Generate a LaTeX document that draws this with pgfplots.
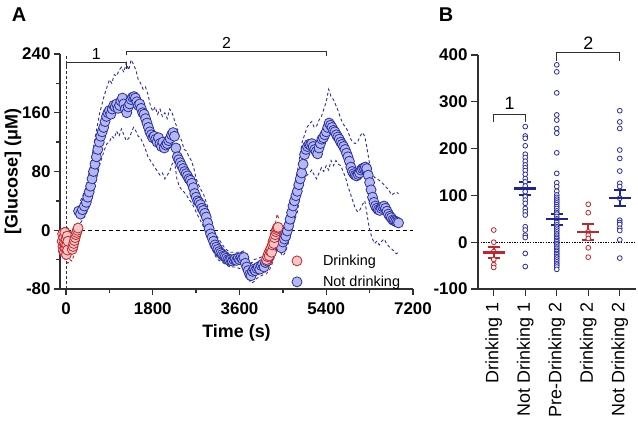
\documentclass[border=0pt]{standalone}
\usepackage{fontspec}
\setmainfont{Liberation Sans}
\usepackage{graphicx}
\usepackage{pgfplots}
\pgfplotsset{compat=1.18}
\definecolor{navy}{HTML}{2B2F9E}
\definecolor{dnavy}{HTML}{1C2590}
\definecolor{lblue}{HTML}{B3B8F0}
\definecolor{dred}{HTML}{C0262B}
\definecolor{lred}{HTML}{F5C8C8}
\definecolor{axgray}{HTML}{303030}
\pgfplotsset{
  myaxis/.style={scale only axis, anchor=south west,
    axis x line*=bottom, axis y line*=left,
    axis line style={-, axgray, line width=1.3bp},
    tick align=outside, major tick length=6bp, minor tick length=4bp,
    every tick/.style={axgray, line width=1.3bp},
    ticklabel style={font=\fontsize{17}{17}\selectfont\bfseries},
    clip=false},
  band/.style={navy, line width=0.9bp, dash pattern=on 3bp off 2.5bp, forget plot},
  rband/.style={dred, line width=0.9bp, dash pattern=on 3bp off 2.5bp, forget plot},
}
\begin{document}
\begin{tikzpicture}
\useasboundingbox (0,0) rectangle (638bp,422bp);
% ---------------- Panel A ----------------
\begin{axis}[myaxis, at={(60bp,133bp)}, width=353bp, height=235bp,
  xmin=-125, xmax=7200, ymin=-80, ymax=240,
  xtick={0,1800,3600,5400,7200}, xticklabels={0,1800,3600,5400,7200},
  minor xtick={900,2700,4500,6300},
  ytick={-80,0,80,160,240}, yticklabels={-80,0,80,160,240},
  minor ytick={-40,40,120,200},
  xticklabel style={yshift=-4bp},
  xlabel={Time (s)}, ylabel={[Glucose] (μM)},
  every axis x label/.style={at={([yshift=-44bp]axis description cs:0.5,0)}, anchor=center, font=\fontsize{18}{18}\selectfont\bfseries},
  every axis y label/.style={at={([xshift=-47bp]axis description cs:0,0.5)}, rotate=90, anchor=center, font=\fontsize{18}{18}\selectfont\bfseries},
  reverse legend,
  legend style={draw=none, fill=none, at={(axis cs:4685,-56)}, anchor=west, inner sep=0pt,
    font=\fontsize{14.5}{16}\selectfont, nodes={inner sep=2bp}, row sep=5bp},
  legend cell align=left]
% zero lines
\addplot[forget plot, black, line width=0.9bp, dash pattern=on 4bp off 3bp] coordinates {(-125,0) (7200,0)};
\addplot[forget plot, black!80, line width=0.9bp, dash pattern=on 3bp off 2bp] coordinates {(0,-80) (0,240)};
% SEM bands (not drinking)
\addplot[band] coordinates {(300,40) (400,55) (500,85) (600,125) (700,160) (800,185) (850,195) (900,205) (950,200) (1000,212) (1050,210) (1100,218) (1150,222) (1200,215) (1250,228) (1300,218) (1350,232) (1400,226) (1450,218) (1500,205) (1550,200) (1600,192) (1650,195) (1700,185) (1750,170) (1800,162) (1850,168) (1900,158) (1950,165) (2000,155) (2050,160) (2100,152) (2150,165) (2200,160) (2250,150) (2300,140) (2350,128) (2400,122) (2450,110) (2500,108) (2550,100) (2600,95) (2650,85) (2700,70) (2750,62) (2800,55) (2850,50) (2900,40) (2950,30) (3000,15) (3050,5) (3100,-5) (3150,-10) (3200,-15) (3250,-20) (3300,-25) (3400,-30) (3500,-30) (3600,-30) (3700,-28) (3750,-35) (3800,-42) (3850,-45) (3900,-40) (4000,-38) (4100,-35) (4150,-30)};
\addplot[band] coordinates {(4450,5) (4500,0) (4550,10) (4600,25) (4650,35) (4700,50) (4750,65) (4800,80) (4850,100) (4900,120) (4950,130) (5000,140) (5050,145) (5100,148) (5150,140) (5200,142) (5250,150) (5300,155) (5350,165) (5400,175) (5450,192) (5500,182) (5550,178) (5600,170) (5650,162) (5700,152) (5750,145) (5800,140) (5850,135) (5900,125) (5950,120) (6000,118) (6050,120) (6100,128) (6150,133) (6200,128) (6250,110) (6300,90) (6350,78) (6400,72) (6450,70) (6500,68) (6550,65) (6600,62) (6650,58) (6700,55) (6750,48) (6800,50) (6850,52) (6900,50)};
\addplot[band] coordinates {(300,10) (400,20) (500,35) (600,60) (700,90) (800,110) (850,118) (900,120) (950,128) (1000,125) (1050,135) (1100,128) (1150,138) (1200,130) (1250,122) (1300,125) (1350,132) (1400,140) (1450,135) (1500,128) (1550,125) (1600,118) (1650,110) (1700,100) (1750,95) (1800,90) (1850,85) (1900,80) (1950,75) (2000,78) (2050,70) (2100,75) (2150,80) (2200,90) (2250,95) (2300,70) (2350,60) (2400,55) (2450,52) (2500,48) (2550,42) (2600,38) (2650,32) (2700,25) (2750,18) (2800,12) (2850,5) (2900,-2) (2950,-10) (3000,-20) (3050,-28) (3100,-35) (3150,-40) (3200,-42) (3300,-46) (3400,-50) (3500,-50) (3600,-52) (3700,-48) (3750,-60) (3800,-68) (3850,-72) (3900,-70) (3950,-66) (4000,-64) (4100,-60) (4150,-55)};
\addplot[band] coordinates {(4450,-30) (4500,-35) (4550,-30) (4600,-20) (4650,-10) (4700,5) (4750,15) (4800,25) (4850,45) (4900,60) (4950,70) (5000,75) (5050,78) (5100,82) (5150,75) (5200,70) (5250,78) (5300,85) (5350,80) (5400,88) (5450,82) (5500,95) (5550,88) (5600,95) (5650,90) (5700,88) (5750,80) (5800,72) (5850,60) (5900,50) (5950,40) (6000,30) (6050,25) (6100,28) (6150,35) (6200,40) (6250,20) (6300,0) (6350,-10) (6400,-18) (6450,-15) (6500,-20) (6550,-15) (6600,-12) (6650,-18) (6700,-22) (6750,-25) (6800,-28) (6850,-32) (6900,-30)};
% SEM bands (drinking)
\addplot[rband] coordinates {(-80,-30) (-40,-38) (0,-42) (40,-45) (80,-40) (120,-42) (160,-35) (200,-28) (250,-15)};
\addplot[rband] coordinates {(-80,2) (0,5) (80,0) (160,-8) (200,2) (250,12)};
\addplot[rband] coordinates {(4150,-60) (4230,-53) (4300,-42) (4380,-20) (4420,-15)};
\addplot[rband] coordinates {(4150,-25) (4230,-20) (4300,-8) (4380,22) (4420,15)};
% Not drinking
\addplot[only marks, mark=*, mark size=5bp, mark options={fill=lblue, draw=navy, line width=0.8bp}] coordinates {
(260,26) (300,22) (340,28) (380,33) (420,38) (450,45) (480,52) (510,60) (540,70) (570,80) (600,90) (630,100) (660,110) (690,120) (720,128) (750,134) (780,140) (810,148) (840,155) (870,160) (900,163) (930,158) (960,165) (990,170) (1020,168) (1050,172) (1080,166) (1110,170) (1140,176) (1170,180) (1200,172) (1230,165) (1260,160) (1290,168) (1320,172) (1350,178) (1380,181) (1410,182) (1440,180) (1470,175) (1500,170) (1530,172) (1560,166) (1590,160) (1620,158) (1650,152) (1680,146) (1710,140) (1740,134) (1770,130) (1800,126) (1830,128) (1860,124) (1890,120) (1920,126) (1950,118) (1980,114) (2010,120) (2040,112) (2070,116) (2100,118) (2130,122) (2160,125) (2190,130) (2220,133) (2250,128) (2280,112) (2310,100) (2340,96) (2370,92) (2400,88) (2430,84) (2460,80) (2490,77) (2520,74) (2550,70) (2580,68) (2610,64) (2640,58) (2670,50) (2700,45) (2730,40) (2760,38) (2790,35) (2820,30) (2850,27) (2880,23) (2910,18) (2940,10) (2970,2) (3000,-5) (3030,-10) (3060,-15) (3090,-20) (3120,-23) (3150,-26) (3180,-29) (3210,-31) (3240,-33) (3270,-35) (3300,-36) (3330,-38) (3360,-40) (3390,-41) (3420,-40) (3450,-42) (3480,-40) (3510,-39) (3540,-41) (3570,-38) (3600,-40) (3630,-37) (3660,-39) (3690,-37) (3720,-45) (3750,-50) (3780,-55) (3810,-60) (3840,-62) (3870,-56) (3900,-53) (3930,-55) (3960,-52) (3990,-50) (4020,-53) (4050,-48) (4080,-46) (4110,-50) (4140,-44) (4170,-42) (4200,-38) (4230,-33) (4260,-28) (4290,-22) (4320,-18) (4350,-14) (4380,-8) (4410,-5) (4440,-10) (4470,-24) (4500,-16) (4530,-12) (4560,-8) (4590,-1) (4620,6) (4650,15) (4680,24) (4710,33) (4740,40) (4770,47) (4800,53) (4830,62) (4860,70) (4890,78) (4920,90) (4950,103) (4980,110) (5010,114) (5040,117) (5070,116) (5100,118) (5130,114) (5160,110) (5190,107) (5220,104) (5250,112) (5280,118) (5310,124) (5340,126) (5370,130) (5400,134) (5430,140) (5460,146) (5490,143) (5520,140) (5550,136) (5580,134) (5610,130) (5640,127) (5670,124) (5700,120) (5730,117) (5760,114) (5790,110) (5820,105) (5850,100) (5880,94) (5910,86) (5940,80) (5970,77) (6000,75) (6030,74) (6060,76) (6090,78) (6120,82) (6150,84) (6180,85) (6210,86) (6240,84) (6270,75) (6300,65) (6330,55) (6360,45) (6390,38) (6420,33) (6450,30) (6480,28) (6510,27) (6540,30) (6570,32) (6600,33) (6630,30) (6660,26) (6690,22) (6720,19) (6750,17) (6780,14) (6810,13) (6840,12) (6870,11) (6900,10)};
\addlegendentry{\hspace{19bp}Not drinking}
% Drinking
\addplot[only marks, mark=*, mark size=5bp, mark options={fill=lred, draw=dred, line width=0.8bp}] coordinates {
(-80,-15) (-72,-5) (-64,-22) (-56,-28) (-48,-10) (-40,-18) (-32,-30) (-24,-3) (-16,-20) (-8,-25) (0,-12) (8,-33) (16,-20) (24,-8) (32,-27) (40,-15)
(130,-26) (145,-22) (160,-18) (175,-14) (190,-10) (205,-6) (220,-3) (235,0) (250,3)};
\addlegendentry{\hspace{19bp}Drinking}
\addplot[forget plot, only marks, mark=*, mark size=5bp, mark options={fill=lred, draw=dred, line width=0.8bp}] coordinates {
(4160,-40) (4180,-36) (4200,-32) (4215,-35) (4230,-28) (4250,-25) (4265,-30) (4280,-20) (4295,-15) (4310,-18) (4325,-10) (4340,-6) (4355,-2) (4370,1) (4385,3) (4400,4)};
% brackets
\draw[axgray, line width=1bp] (axis cs:0,222) -- (axis cs:0,229) -- (axis cs:1260,229) -- (axis cs:1260,220);
\draw[axgray, line width=1bp] (axis cs:1260,238) -- (axis cs:1260,243) -- (axis cs:5400,243) -- (axis cs:5400,237);
\node[font=\fontsize{16}{16}\selectfont, anchor=base] at (axis cs:630,232) {1};
\node[font=\fontsize{16}{16}\selectfont, anchor=base] at (axis cs:3330,248) {2};
\end{axis}
% ---------------- Panel B ----------------
\begin{axis}[myaxis, at={(478bp,133bp)}, width=157.5bp, height=234bp,
  xmin=-0.5, xmax=4.5, ymin=-100, ymax=400,
  xtick={0,1,2,3,4},
  xticklabels={Drinking 1, Not Drinking 1, Pre-Drinking 2, Drinking 2, Not Drinking 2},
  xticklabel style={rotate=90, anchor=east, font=\fontsize{18}{18}\selectfont, xshift=-3bp},
  ytick={-100,0,100,200,300,400}, yticklabels={-100,0,100,200,300,400},
  major tick length=7bp]
\addplot[black, line width=0.9bp, dash pattern=on 1.3bp off 1.3bp] coordinates {(-0.5,0) (4.5,0)};
% red dots
\addplot[only marks, mark=*, mark size=2.4bp, mark options={fill=white, draw=dred, line width=0.8bp}] coordinates {
(0,26) (0,0) (0,-20) (0,-37) (0,-48) (0,-54)
(3,81) (3,63) (3,22) (3,15) (3,8) (3,-12) (3,-32)};
% blue dots
\addplot[only marks, mark=*, mark size=2.4bp, mark options={fill=white, draw=navy, line width=0.8bp}] coordinates {
(1,247) (1,227) (1,222) (1,206) (1,188) (1,181) (1,173) (1,165) (1,159) (1,153) (1,145) (1,136) (1,129) (1,120) (1,108) (1,97) (1,90) (1,83) (1,72) (1,65) (1,58) (1,33) (1,26) (1,15) (1,10) (1,-24) (1,-52)
(2,379) (2,364) (2,319) (2,272) (2,261) (2,243) (2,233) (2,191) (2,147) (2,127) (2,119) (2,109) (2,101) (2,96) (2,92) (2,88) (2,84) (2,80) (2,76) (2,72) (2,67) (2,63) (2,60) (2,55) (2,50) (2,47) (2,42) (2,37) (2,33) (2,30) (2,26) (2,22) (2,18) (2,15) (2,11) (2,8) (2,4) (2,1) (2,-3) (2,-6) (2,-10) (2,-13) (2,-17) (2,-20) (2,-24) (2,-27) (2,-31) (2,-34) (2,-38) (2,-42) (2,-46) (2,-49) (2,-53) (2,-58)
(4,281) (4,257) (4,243) (4,197) (4,179) (4,152) (4,126) (4,119) (4,94) (4,47) (4,42) (4,38) (4,30) (4,25) (4,5) (4,-34)};
% means and SEM
\addplot[only marks, mark=-, mark size=11bp, mark options={line width=2.4bp, draw=dred}, error bars/.cd, y dir=both, y explicit,
  error bar style={line width=2.2bp, dred}, error mark options={rotate=90, mark size=6bp, line width=2.2bp, dred}]
  coordinates {(0,-22) +- (0,11.5) (3,22) +- (0,17.5)};
\addplot[only marks, mark=-, mark size=11bp, mark options={line width=2.4bp, draw=dnavy}, error bars/.cd, y dir=both, y explicit,
  error bar style={line width=2.2bp, dnavy}, error mark options={rotate=90, mark size=6bp, line width=2.2bp, dnavy}]
  coordinates {(1,115) +- (0,13.5) (2,49) +- (0,11.5) (4,94) +- (0,17)};
% brackets
\draw[axgray, line width=1bp] (axis cs:0,257) -- (axis cs:0,272) -- (axis cs:1,272) -- (axis cs:1,257);
\draw[axgray, line width=1bp] (axis cs:2,388) -- (axis cs:2,405) -- (axis cs:4,405) -- (axis cs:4,388);
\node[font=\fontsize{18}{18}\selectfont] at (axis cs:0.5,297) {1};
\node[font=\fontsize{18}{18}\selectfont] at (axis cs:3,425) {2};
\end{axis}
\node[font=\fontsize{20}{20}\selectfont\bfseries] at (19bp,407bp) {A};
\node[font=\fontsize{20}{20}\selectfont\bfseries] at (446bp,407bp) {B};
\end{tikzpicture}
\end{document}
